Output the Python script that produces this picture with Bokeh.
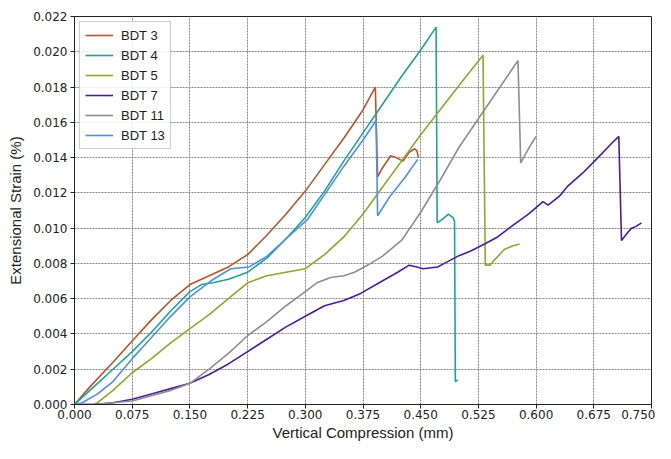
from bokeh.plotting import figure
from bokeh.models import Range1d, FixedTicker, NumeralTickFormatter, Legend, LegendItem
from bokeh.embed import file_html
from bokeh.resources import INLINE

# ---- data ----
bdt3_x = [0, 0.02, 0.05, 0.075, 0.10, 0.125, 0.15, 0.175, 0.20, 0.225, 0.25, 0.275, 0.30, 0.325, 0.35, 0.375, 0.391, 0.394, 0.40, 0.411, 0.418, 0.427, 0.435, 0.442, 0.445, 0.447]
bdt3_y = [0, 0.0010, 0.0024, 0.0036, 0.0048, 0.0059, 0.0068, 0.0073, 0.0078, 0.0085, 0.0096, 0.0108, 0.0121, 0.0136, 0.0151, 0.0167, 0.0180, 0.0129, 0.0134, 0.0141, 0.0140, 0.0138, 0.0143, 0.0145, 0.0144, 0.0140]

bdt4_x = [0, 0.025, 0.05, 0.075, 0.10, 0.125, 0.15, 0.165, 0.18, 0.20, 0.225, 0.25, 0.275, 0.30, 0.325, 0.35, 0.375, 0.40, 0.425, 0.45, 0.470, 0.4714, 0.478, 0.486, 0.492, 0.494, 0.495, 0.498]
bdt4_y = [0, 0.0010, 0.0020, 0.0030, 0.0041, 0.0053, 0.0064, 0.0068, 0.0069, 0.0071, 0.0075, 0.0083, 0.0094, 0.0106, 0.0121, 0.0138, 0.0154, 0.0170, 0.0186, 0.0201, 0.0214, 0.0103, 0.0105, 0.0108, 0.0106, 0.0104, 0.0013, 0.0014]

bdt5_x = [0, 0.025, 0.03, 0.05, 0.075, 0.10, 0.125, 0.15, 0.175, 0.20, 0.225, 0.25, 0.275, 0.30, 0.325, 0.35, 0.375, 0.40, 0.425, 0.45, 0.475, 0.50, 0.531, 0.534, 0.540, 0.546, 0.559, 0.570, 0.5785]
bdt5_y = [0, 0.0, 0.0001, 0.0008, 0.0018, 0.0026, 0.0035, 0.0043, 0.0051, 0.0060, 0.0069, 0.0073, 0.0075, 0.0077, 0.0085, 0.0095, 0.0108, 0.0123, 0.0138, 0.0153, 0.0167, 0.0181, 0.0198, 0.0079, 0.0079, 0.0082, 0.0088, 0.0090, 0.0091]

bdt7_x = [0, 0.025, 0.05, 0.075, 0.10, 0.125, 0.15, 0.175, 0.20, 0.225, 0.25, 0.275, 0.30, 0.325, 0.35, 0.372, 0.40, 0.42, 0.435, 0.445, 0.453, 0.472, 0.485, 0.498, 0.515, 0.533, 0.55, 0.568, 0.59, 0.609, 0.6155, 0.63, 0.6415, 0.66, 0.676, 0.698, 0.7075, 0.711, 0.718, 0.724, 0.73, 0.737]
bdt7_y = [0, 0.0, 0.0001, 0.0003, 0.0006, 0.0009, 0.0012, 0.0017, 0.0023, 0.0030, 0.0037, 0.0044, 0.0050, 0.0056, 0.0059, 0.0063, 0.0070, 0.0075, 0.0079, 0.0078, 0.0077, 0.0078, 0.0081, 0.0084, 0.0087, 0.0091, 0.0095, 0.0101, 0.0108, 0.0115, 0.0113, 0.0118, 0.0124, 0.0131, 0.0138, 0.0148, 0.0152, 0.0093, 0.0097, 0.0100, 0.0101, 0.0103]

bdt11_x = [0, 0.025, 0.05, 0.075, 0.10, 0.125, 0.15, 0.175, 0.20, 0.225, 0.25, 0.275, 0.30, 0.315, 0.333, 0.35, 0.364, 0.3724, 0.385, 0.40, 0.425, 0.45, 0.475, 0.50, 0.525, 0.55, 0.5764, 0.58, 0.59, 0.600]
bdt11_y = [0, 0.0, 0.0001, 0.0002, 0.0005, 0.0008, 0.0012, 0.0020, 0.0029, 0.0039, 0.0047, 0.0056, 0.0064, 0.0069, 0.0072, 0.0073, 0.0075, 0.0077, 0.0080, 0.0084, 0.0093, 0.0109, 0.0127, 0.0146, 0.0162, 0.0178, 0.0195, 0.0137, 0.0145, 0.0152]

bdt13_x = [0, 0.01, 0.03, 0.05, 0.075, 0.10, 0.125, 0.15, 0.177, 0.203, 0.227, 0.25, 0.275, 0.303, 0.325, 0.35, 0.375, 0.392, 0.394, 0.41, 0.43, 0.446]
bdt13_y = [0, 0.0001, 0.0006, 0.0013, 0.0026, 0.0038, 0.0050, 0.0061, 0.0070, 0.0077, 0.0078, 0.0084, 0.0094, 0.0105, 0.0119, 0.0135, 0.0150, 0.0161, 0.0107, 0.0118, 0.0129, 0.0139]

series_names = ["BDT 3", "BDT 4", "BDT 5", "BDT 7", "BDT 11", "BDT 13"]
series_colors = ["#b5562a", "#1fa394", "#8fa82a", "#4b1c9e", "#8e8e8e", "#4d8ef0"]
x_ticks = [0.0, 0.075, 0.15, 0.225, 0.3, 0.375, 0.45, 0.525, 0.6, 0.675, 0.75]
y_ticks = [0.0, 0.002, 0.004, 0.006, 0.008, 0.010, 0.012, 0.014, 0.016, 0.018, 0.020, 0.022]

series_x = [bdt3_x, bdt4_x, bdt5_x, bdt7_x, bdt11_x, bdt13_x]
series_y = [bdt3_y, bdt4_y, bdt5_y, bdt7_y, bdt11_y, bdt13_y]

TICK_FONT = "DejaVu Sans"
LABEL_FONT = "Liberation Sans"

p = figure(width=655, height=443, output_backend="svg", toolbar_location=None,
           x_range=Range1d(0, 0.75), y_range=Range1d(0, 0.022),
           min_border_left=74, min_border_right=4, min_border_top=16, min_border_bottom=30)

p.background_fill_color = "white"
p.border_fill_color = "white"
p.outline_line_color = "#222222"
p.outline_line_width = 1

for ax in (p.xaxis[0], p.yaxis[0]):
    ax.major_label_text_font = TICK_FONT
    ax.major_label_text_font_size = "12px"
    ax.major_label_text_color = "#222222"
    ax.axis_label_text_font = LABEL_FONT
    ax.axis_label_text_font_size = "15px"
    ax.axis_label_text_font_style = "normal"
    ax.axis_label_text_color = "#222222"
    ax.major_tick_in = 0
    ax.major_tick_out = 4
    ax.minor_tick_in = 0
    ax.minor_tick_out = 0
    ax.axis_line_color = "#222222"
    ax.major_tick_line_color = "#222222"
    ax.major_label_standoff = 1
    ax.axis_label_standoff = 2

p.yaxis[0].major_label_standoff = 3
p.yaxis[0].axis_label_standoff = 6

p.xaxis[0].ticker = FixedTicker(ticks=x_ticks)
p.yaxis[0].ticker = FixedTicker(ticks=y_ticks)
p.xaxis[0].formatter = NumeralTickFormatter(format="0.000")
p.yaxis[0].formatter = NumeralTickFormatter(format="0.000")
p.xaxis[0].axis_label = "Vertical Compression (mm)"
p.yaxis[0].axis_label = "Extensional Strain (%)"

for g in (p.xgrid[0], p.ygrid[0]):
    g.grid_line_color = "#7a7a7a"
    g.grid_line_dash = "2 1"
    g.grid_line_width = 1
    g.grid_line_alpha = 0.9

items = []
for name, color, xs, ys in zip(series_names, series_colors, series_x, series_y):
    r = p.line(xs, ys, line_color=color, line_width=1.6)
    items.append(LegendItem(label=name, renderers=[r]))

legend = Legend(items=items, location="top_left")
legend.label_text_font = LABEL_FONT
legend.label_text_font_size = "13px"
legend.label_text_color = "#222222"
legend.glyph_width = 28
legend.glyph_height = 16
legend.spacing = 4
legend.padding = 5
legend.margin = 5
legend.label_standoff = 8
legend.border_line_color = "#cccccc"
legend.border_line_alpha = 1
legend.background_fill_alpha = 0.85
p.add_layout(legend)

open("out.html", "w").write(file_html(p, INLINE))
